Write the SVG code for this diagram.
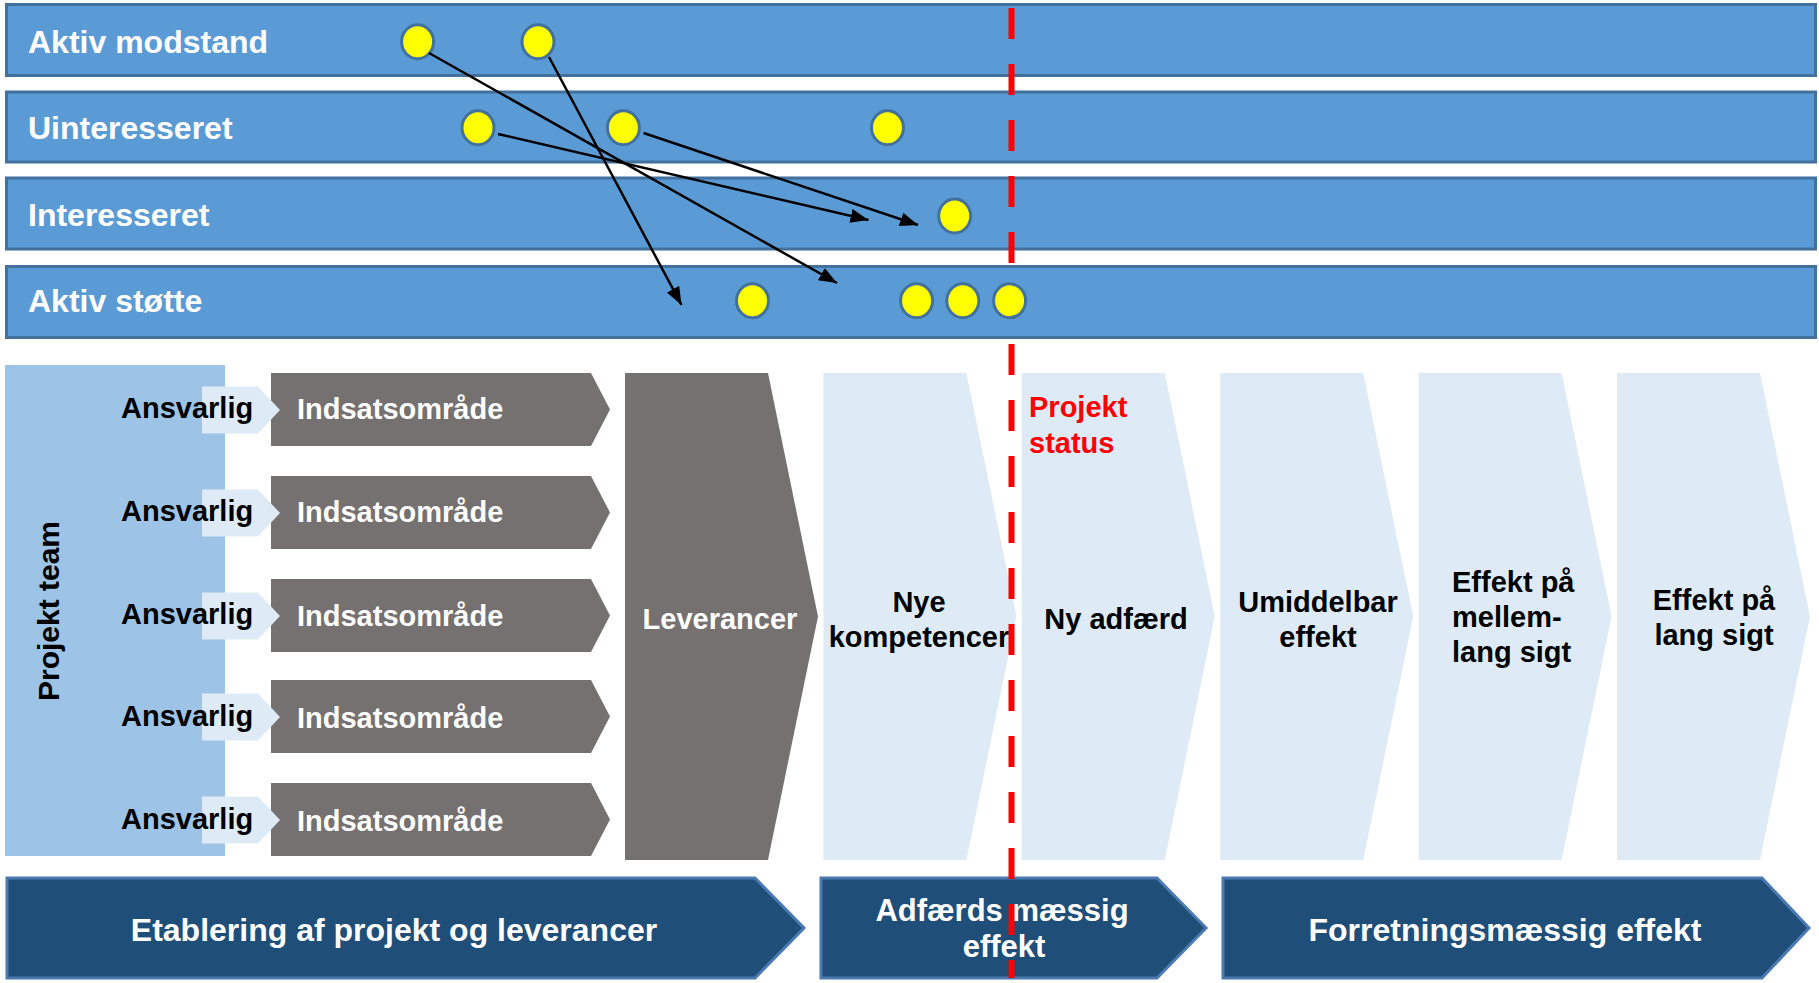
<svg xmlns="http://www.w3.org/2000/svg" width="1819" height="983" viewBox="0 0 1819 983">
<defs>
<style>
.band{fill:#5b9bd5;stroke:#41719c;stroke-width:3}
.bt{font-family:"Liberation Sans",Arial,sans-serif;font-weight:bold;font-size:32px;fill:#fff}
.dot{fill:#ffff00;stroke:#41719c;stroke-width:3}
.gray{fill:#767171}
.light{fill:#deebf7}
.team{fill:#9dc3e6}
.t{font-family:"Liberation Sans",Arial,sans-serif;font-weight:bold;font-size:29px}
.w{fill:#fff}
.k{fill:#000}
.r{fill:#ff0000}
.m{text-anchor:middle}
.ban{fill:#1f4e79;stroke:#4a7ab0;stroke-width:3}
.bn{font-family:"Liberation Sans",Arial,sans-serif;font-weight:bold;font-size:31px;fill:#fff;text-anchor:middle}
.bn2{font-size:32px}
.arr{stroke:#000;stroke-width:2.5;fill:none;marker-end:url(#ah)}
</style>
<marker id="ah" markerUnits="userSpaceOnUse" markerWidth="20" markerHeight="16" refX="18" refY="7" orient="auto"><path d="M0,0 L18,7 L0,14 z" fill="#000"/></marker>
</defs>
<rect width="1819" height="983" fill="#fff"/>

<g id="band-aktiv-modstand"><rect class="band" x="6.5" y="4.5" width="1809" height="71"/><text class="bt" x="28" y="53">Aktiv modstand</text></g>
<g id="band-uinteresseret"><rect class="band" x="6.5" y="92" width="1809" height="70"/><text class="bt" x="28" y="139">Uinteresseret</text></g>
<g id="band-interesseret"><rect class="band" x="6.5" y="178" width="1809" height="71"/><text class="bt" x="28" y="226">Interesseret</text></g>
<g id="band-aktiv-stoette"><rect class="band" x="6.5" y="266.5" width="1809" height="71"/><text class="bt" x="28" y="312">Aktiv støtte</text></g>

<g id="projekt-team"><rect class="team" x="5" y="365" width="220" height="491"/><text class="t k m" style="font-size:30px" transform="translate(59,611) rotate(-90)">Projekt team</text></g>

<g id="row1"><path class="gray" d="M271,373 H591 L610,409.5 L591,446 H271 Z"/><path class="light" d="M202,386.5 H258 L280,410 L258,433.5 H202 Z"/><text class="t k" x="121" y="418">Ansvarlig</text><text class="t w" x="297" y="419">Indsatsområde</text></g>
<g id="row2"><path class="gray" d="M271,476 H591 L610,512.5 L591,549 H271 Z"/><path class="light" d="M202,489.5 H258 L280,513 L258,536.5 H202 Z"/><text class="t k" x="121" y="521">Ansvarlig</text><text class="t w" x="297" y="522">Indsatsområde</text></g>
<g id="row3"><path class="gray" d="M271,579 H591 L610,615.5 L591,652 H271 Z"/><path class="light" d="M202,592.5 H258 L280,616 L258,639.5 H202 Z"/><text class="t k" x="121" y="624">Ansvarlig</text><text class="t w" x="297" y="626">Indsatsområde</text></g>
<g id="row4"><path class="gray" d="M271,680 H591 L610,716.5 L591,753 H271 Z"/><path class="light" d="M202,693.5 H258 L280,717 L258,740.5 H202 Z"/><text class="t k" x="121" y="726">Ansvarlig</text><text class="t w" x="297" y="728">Indsatsområde</text></g>
<g id="row5"><path class="gray" d="M271,783 H591 L610,819.5 L591,856 H271 Z"/><path class="light" d="M202,796.5 H258 L280,820 L258,843.5 H202 Z"/><text class="t k" x="121" y="829">Ansvarlig</text><text class="t w" x="297" y="831">Indsatsområde</text></g>

<g id="leverancer"><path class="gray" d="M625,373 H768 L818,616.5 L768,860 H625 Z"/><text class="t w m" x="720" y="629">Leverancer</text></g>
<g id="nye-kompetencer"><path class="light" d="M823.4,373 H966.4 L1016.4,616.5 L966.4,860 H823.4 Z"/><text class="t k m" x="919" y="612">Nye</text><text class="t k m" x="919" y="647">kompetencer</text></g>
<g id="ny-adfaerd"><path class="light" d="M1021.8,373 H1164.8 L1214.8,616.5 L1164.8,860 H1021.8 Z"/><text class="t k m" x="1116" y="629">Ny adfærd</text><text class="t r" x="1029" y="417">Projekt</text><text class="t r" x="1029" y="453">status</text></g>
<g id="umiddelbar-effekt"><path class="light" d="M1220.2,373 H1363.2 L1413.2,616.5 L1363.2,860 H1220.2 Z"/><text class="t k m" x="1318" y="612">Umiddelbar</text><text class="t k m" x="1318" y="647">effekt</text></g>
<g id="effekt-mellemlang"><path class="light" d="M1418.6,373 H1561.6 L1611.6,616.5 L1561.6,860 H1418.6 Z"/><text class="t k" x="1452" y="592">Effekt på</text><text class="t k" x="1452" y="627">mellem-</text><text class="t k" x="1452" y="662">lang sigt</text></g>
<g id="effekt-lang"><path class="light" d="M1617,373 H1760 L1810,616.5 L1760,860 H1617 Z"/><text class="t k m" x="1714" y="610">Effekt på</text><text class="t k m" x="1714" y="645">lang sigt</text></g>

<g id="banner-etablering"><path class="ban" d="M7,878 H755 L804,928 L755,978 H7 Z"/><text class="bn bn2" x="394" y="941">Etablering af projekt og leverancer</text></g>
<g id="banner-adfaerd"><path class="ban" d="M821,878 H1157 L1206,928 L1157,978 H821 Z"/><text class="bn" x="1002" y="921">Adfærds mæssig</text><text class="bn" x="1004" y="957">effekt</text></g>
<g id="banner-forretning"><path class="ban" d="M1223,878 H1762 L1809,928 L1762,978 H1223 Z"/><text class="bn bn2" x="1505" y="941">Forretningsmæssig effekt</text></g>

<g id="status-line"><line x1="1011.5" y1="8" x2="1011.5" y2="978" stroke="#ff0000" stroke-width="6" stroke-dasharray="31 25"/></g>

<g id="stakeholders">
<ellipse class="dot" cx="417.6" cy="41.8" rx="16" ry="17"/>
<ellipse class="dot" cx="538" cy="41.8" rx="16" ry="17"/>
<ellipse class="dot" cx="478" cy="127.7" rx="16" ry="17"/>
<ellipse class="dot" cx="623.4" cy="127.7" rx="16" ry="17"/>
<ellipse class="dot" cx="887.5" cy="127.7" rx="16" ry="17"/>
<ellipse class="dot" cx="954.7" cy="216" rx="16" ry="17"/>
<ellipse class="dot" cx="752.5" cy="300.7" rx="16" ry="17"/>
<ellipse class="dot" cx="916.6" cy="300.7" rx="16" ry="17"/>
<ellipse class="dot" cx="962.8" cy="300.7" rx="16" ry="17"/>
<ellipse class="dot" cx="1009.6" cy="300.7" rx="16" ry="17"/>
</g>

<g id="connectors">
<line class="arr" x1="429" y1="53" x2="837" y2="283"/>
<line class="arr" x1="549" y1="57" x2="681.5" y2="305"/>
<line class="arr" x1="498" y1="134" x2="868.5" y2="220"/>
<line class="arr" x1="643.6" y1="133" x2="918" y2="225"/>
</g>
</svg>
